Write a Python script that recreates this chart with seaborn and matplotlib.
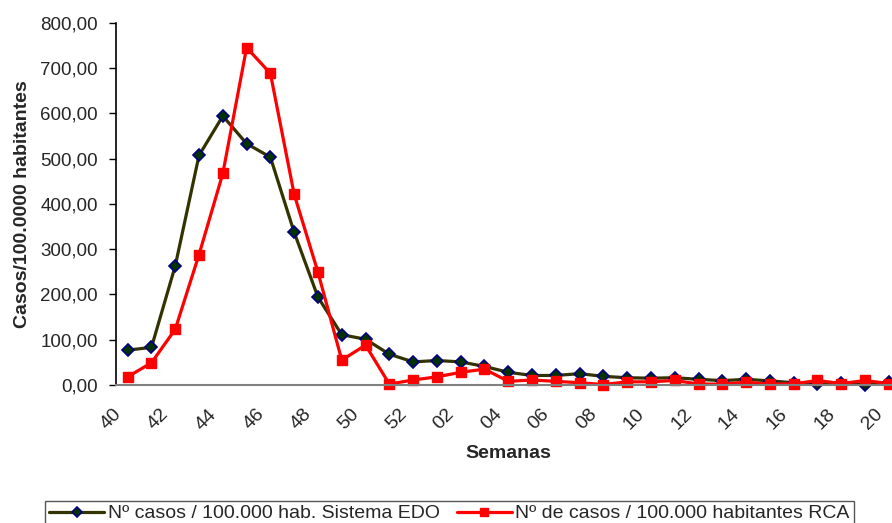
import numpy as np
import pandas as pd
import matplotlib
matplotlib.use('Agg')
from matplotlib import pyplot as plt
from matplotlib.ticker import FuncFormatter, MultipleLocator, FixedLocator
from matplotlib.transforms import ScaledTranslation
import seaborn as sns

# semanas epidemiologicas (40-52 y 01-20)
weeks = ['40', '41', '42', '43', '44', '45', '46', '47', '48', '49', '50', '51', '52',
         '01', '02', '03', '04', '05', '06', '07', '08', '09', '10', '11', '12',
         '13', '14', '15', '16', '17', '18', '19', '20']

# tasas por 100.000 hab.
edo = [77, 83, 263, 507, 594, 533, 503, 337, 194, 111, 101, 68, 51,
       54, 51, 41, 28, 21, 21, 25, 19, 16, 15, 16, 12.5,
       9.6, 12.5, 9, 5, 1.5, 5, 0, 7]
rca = [18, 49, 123, 288, 467, 745, 688, 421, 249, 55, 88, 2, 11,
       18, 28, 35, 8, 11, 8, 5, 1, 7, 7, 10, 2,
       2, 6, 2, 2.5, 10, 3, 10, 3]

label_edo = 'Nº casos / 100.000 hab. Sistema EDO'
label_rca = 'Nº de casos / 100.000 habitantes RCA'

sns.set_style('white')
plt.rcParams['font.family'] = ['Liberation Sans', 'DejaVu Sans']

df = pd.DataFrame({'pos': np.arange(len(weeks)), 'edo': edo, 'rca': rca})

fig = plt.figure(figsize=(8.92, 5.23), dpi=100)
ax = fig.add_axes([0.1298, 0.2639, 0.880, 0.6927])

sns.lineplot(data=df, x='pos', y='edo', ax=ax, color='#333300', lw=2.3,
             marker='D', ms=6.5, mfc='#003300', mec='#000080', mew=1.2,
             label=label_edo, clip_on=False)
sns.lineplot(data=df, x='pos', y='rca', ax=ax, color='#ff0000', lw=2.3,
             marker='s', ms=6.5, mfc='#ff0000', mec='#ff0000', mew=1,
             label=label_rca, clip_on=False)

ax.set_xlim(-0.5, len(weeks) - 0.5)
ax.set_ylim(0, 800)
ax.yaxis.set_major_locator(MultipleLocator(100))
ax.yaxis.set_major_formatter(FuncFormatter(lambda v, p: f'{v:.2f}'.replace('.', ',')))

ax.xaxis.set_major_locator(FixedLocator(np.arange(0, len(weeks), 2)))
ax.set_xticklabels(weeks[::2])
ax.xaxis.set_minor_locator(FixedLocator(np.arange(len(weeks) + 1) - 0.5))
ax.tick_params(axis='x', which='major', length=0, pad=15, labelsize=14)
ax.tick_params(axis='x', which='minor', length=5, width=1.2, color='#808080', direction='out')
ax.tick_params(axis='y', length=5, width=1, color='black', direction='out', pad=8, labelsize=13.5, left=True)
shift = ScaledTranslation(-15 / 100, 0, fig.dpi_scale_trans)
for lab in ax.get_xticklabels():
    lab.set_rotation(45)
    lab.set_ha('right')
    lab.set_va('top')
    lab.set_rotation_mode('anchor')
    lab.set_transform(lab.get_transform() + shift)

for s in ['top', 'right']:
    ax.spines[s].set_visible(False)
ax.spines['left'].set_color('black')
ax.spines['left'].set_linewidth(1.2)
ax.spines['bottom'].set_color('#808080')
ax.spines['bottom'].set_linewidth(1.5)

ax.set_ylabel('Casos/100.0000 habitantes', fontsize=14, fontweight='bold')
ax.set_xlabel('Semanas', fontsize=14, fontweight='bold')
ax.yaxis.set_label_coords(-0.108, 0.5)
ax.xaxis.set_label_coords(0.5, -0.1656)

handles, labels = ax.get_legend_handles_labels()
ax.get_legend().remove()
leg = fig.legend(handles, labels, loc='upper center', bbox_to_anchor=(0.504, 0.061),
                 ncol=2, fontsize=14, frameon=True, fancybox=False, framealpha=1,
                 edgecolor='#555555', handlelength=2.8, handletextpad=0.2,
                 columnspacing=0.9, borderpad=0.2, markerscale=0.8)
leg.get_frame().set_linewidth(1)

fig.savefig('out.png', dpi=100)
